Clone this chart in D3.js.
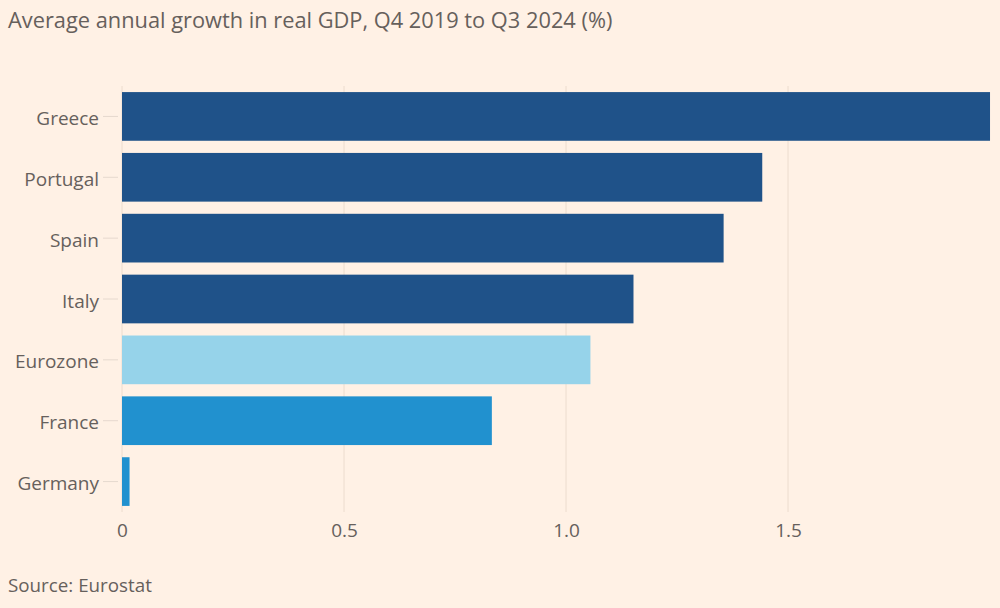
<!DOCTYPE html>
<html>
<head>
<meta charset="utf-8">
<script src="https://cdn.jsdelivr.net/npm/d3@7"></script>
<style>
  html, body { margin: 0; padding: 0; background: #fff1e5; }
  svg { display: block; }
  text { font-family: "Open Sans", "Noto Sans", sans-serif; fill: #66605c; }
</style>
</head>
<body>
<svg id="chart" width="1000" height="608"></svg>
<script>
const countries = ["Greece", "Portugal", "Spain", "Italy", "Eurozone", "France", "Germany"];
const growth = [1.955, 1.442, 1.355, 1.152, 1.055, 0.833, 0.017];
const barColors = ["#1f5289", "#1f5289", "#1f5289", "#1f5289", "#96d3ea", "#2191cf", "#2191cf"];
const tickValues = [0, 0.5, 1.0, 1.5];
const tickLabels = ["0", "0.5", "1.0", "1.5"];
const titleText = "Average annual growth in real GDP, Q4 2019 to Q3 2024 (%)";
const sourceText = "Source: Eurostat";

const data = countries.map((c, i) => ({ country: c, value: growth[i], color: barColors[i] }));

const svg = d3.select("#chart");

svg.append("rect").attr("width", 1000).attr("height", 608).attr("fill", "#fff1e5");

const x = d3.scaleLinear().domain([0, 2]).range([122, 1010]);
const y = d3.scaleBand().domain(countries).range([86, 512]).paddingInner(0.2).paddingOuter(0.1);

// gridlines
svg.append("g").selectAll("line").data(tickValues).join("line")
  .attr("x1", d => x(d)).attr("x2", d => x(d))
  .attr("y1", 86).attr("y2", 512)
  .attr("stroke", "#ecdcce").attr("stroke-width", 1);

// x axis labels
const xAxis = d3.axisBottom(x).tickValues(tickValues)
  .tickFormat((d, i) => tickLabels[i]).tickSize(0).tickPadding(0);
const gx = svg.append("g").attr("transform", "translate(0,523)").call(xAxis);
gx.select(".domain").remove();
gx.selectAll("text").attr("font-size", 19).attr("fill", "#66605c")
  .style("font-family", "'Open Sans', sans-serif");

// y axis
const yAxis = d3.axisLeft(y).tickSize(15).tickPadding(4);
const gy = svg.append("g").attr("transform", "translate(118,0)").call(yAxis);
gy.select(".domain").remove();
gy.selectAll(".tick line").attr("stroke", "#e6d9ce").attr("stroke-width", 1);
gy.selectAll("text").attr("font-size", 19).attr("fill", "#4d4845")
  .attr("dy", "0.45em")
  .style("font-family", "'Open Sans', sans-serif");

// bars
svg.append("g").selectAll("rect").data(data).join("rect")
  .attr("x", x(0))
  .attr("y", d => y(d.country))
  .attr("width", d => x(d.value) - x(0))
  .attr("height", y.bandwidth())
  .attr("fill", d => d.color);

// title
svg.append("text").attr("x", 8).attr("y", 28).attr("font-size", 21.8)
  .attr("fill", "#4d4845").text(titleText);

// source
svg.append("text").attr("x", 8).attr("y", 592).attr("font-size", 18.8)
  .attr("fill", "#4d4845").text(sourceText);
</script>
</body>
</html>
